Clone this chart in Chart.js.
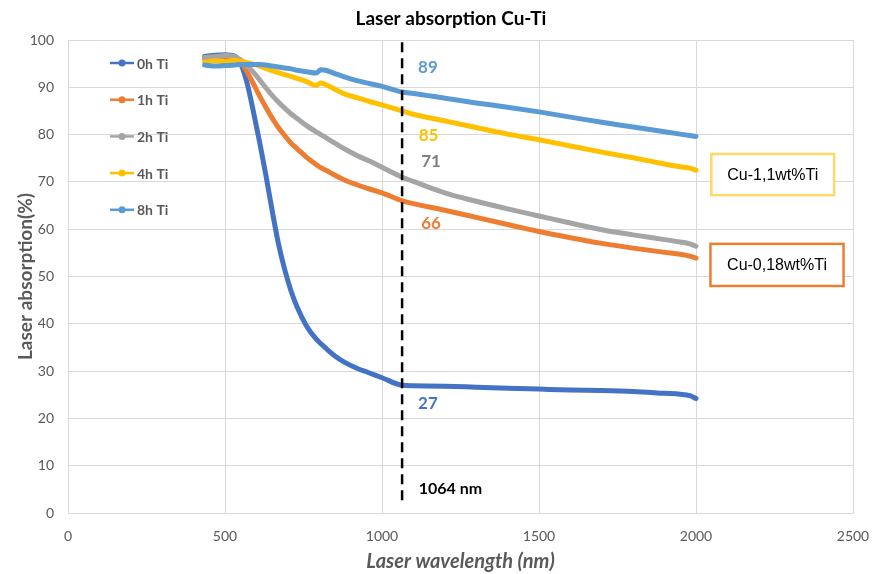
<!DOCTYPE html>
<html>
<head>
<meta charset="utf-8">
<title>Laser absorption Cu-Ti</title>
<script src="https://cdn.jsdelivr.net/npm/chart.js@4.4.1/dist/chart.umd.min.js"></script>
<style>
  html, body { margin: 0; padding: 0; background: #fff; }
</style>
</head>
<body>
<canvas id="absorptionChart" width="872" height="574"></canvas>
<script>
// wavelength grid shared by every sample (nm)
const wavelengths = [435, 470, 500, 530, 550, 570, 590, 610, 630, 650, 670, 690, 710, 730, 760, 790, 805, 820,
                     850, 880, 920, 960, 1000, 1064, 1100, 1200, 1300, 1400, 1500, 1600, 1700, 1800, 1900, 1950, 1980, 2000];

// absorption (%) per milling time
const abs0h = [96.5, 96.8, 96.9, 96.6, 95.0, 91.0, 85.0, 78.5, 71.5, 64.0, 57.0, 51.5, 47.0, 43.5, 39.5, 36.8, 35.8, 34.9,
               33.2, 31.9, 30.6, 29.6, 28.6, 27.0, 26.9, 26.8, 26.6, 26.4, 26.2, 26.0, 25.9, 25.7, 25.3, 25.1, 24.8, 24.2];
const abs1h = [96.0, 96.2, 96.2, 96.0, 95.3, 93.3, 90.8, 88.2, 85.8, 83.5, 81.5, 79.8, 78.2, 77.0, 75.2, 73.7, 73.0, 72.5,
               71.4, 70.4, 69.4, 68.5, 67.7, 66.0, 65.4, 64.0, 62.5, 61.0, 59.5, 58.2, 57.0, 56.0, 55.1, 54.7, 54.3, 53.9];
const abs2h = [96.3, 96.5, 96.7, 96.5, 95.8, 94.6, 93.2, 91.6, 89.9, 88.3, 86.9, 85.6, 84.4, 83.4, 81.9, 80.6, 80.0, 79.4,
               78.2, 77.0, 75.6, 74.4, 73.1, 71.0, 70.1, 67.7, 65.9, 64.3, 62.8, 61.3, 59.9, 58.8, 57.8, 57.3, 56.9, 56.4];
const abs4h = [95.3, 95.6, 95.4, 95.7, 95.5, 95.2, 94.9, 94.5, 94.0, 93.5, 93.1, 92.7, 92.3, 91.9, 91.2, 90.4, 90.9, 90.6,
               89.6, 88.6, 87.8, 87.0, 86.3, 85.0, 84.3, 82.9, 81.5, 80.1, 78.9, 77.6, 76.3, 75.1, 73.8, 73.2, 72.9, 72.5];
const abs8h = [94.7, 94.5, 94.6, 94.7, 94.8, 94.8, 94.8, 94.8, 94.7, 94.5, 94.3, 94.1, 93.9, 93.6, 93.3, 93.0, 93.7, 93.6,
               92.9, 92.2, 91.4, 90.8, 90.2, 89.0, 88.7, 87.7, 86.7, 85.8, 84.8, 83.7, 82.6, 81.6, 80.6, 80.1, 79.8, 79.6];

const seriesNames = ['0h Ti', '1h Ti', '2h Ti', '4h Ti', '8h Ti'];
const seriesValues = [abs0h, abs1h, abs2h, abs4h, abs8h];
const seriesColors = ['#4472C4', '#ED7D31', '#A5A5A5', '#FFC000', '#5B9BD5'];

const xTicks = [0, 500, 1000, 1500, 2000, 2500];
const yTicks = [0, 10, 20, 30, 40, 50, 60, 70, 80, 90, 100];

// Nd:YAG line and the absorption read at it
const laserLine = 1064;
const laserLabel = '1064 nm';
const valuesAtLaser = [27, 66, 71, 85, 89];
const valueColors = ['#4472C4', '#ED7D31', '#7F7F7F', '#FFC000', '#5B9BD5'];

const alloyNotes = ['Cu-1,1wt%Ti', 'Cu-0,18wt%Ti'];

// dashed 1064 nm line, the value readings and the two alloy boxes
const annotations = {
    id: 'annotations',
    afterDatasetsDraw(chart) {
        const { ctx, scales: { x, y } } = chart;
        ctx.save();

        const lx = x.getPixelForValue(laserLine);
        ctx.strokeStyle = '#000';
        ctx.lineWidth = 2.5;
        ctx.setLineDash([10, 6]);
        ctx.beginPath();
        ctx.moveTo(lx, y.getPixelForValue(99.5));
        ctx.lineTo(lx, y.getPixelForValue(1.5));
        ctx.stroke();
        ctx.setLineDash([]);

        // where each reading sits next to the line
        const spots = [[1115, 23.2], [1125, 61.2], [1125, 74.3], [1117, 79.9], [1115, 94.1]];
        ctx.font = 'bold 17px Lato';
        ctx.textAlign = 'left';
        ctx.textBaseline = 'middle';
        valuesAtLaser.forEach((v, i) => {
            ctx.fillStyle = valueColors[i];
            ctx.fillText(String(v), x.getPixelForValue(spots[i][0]), y.getPixelForValue(spots[i][1]));
        });

        ctx.fillStyle = '#000';
        ctx.font = 'bold 16px Lato';
        ctx.fillText(laserLabel, x.getPixelForValue(1117), y.getPixelForValue(5.2));

        const boxes = [
            { x0: 2049, x1: 2440, y0: 75.9, y1: 67.2, color: '#FFD966' },
            { x0: 2046, x1: 2470, y0: 56.9, y1: 48.0, color: '#ED7D31' }
        ];
        ctx.font = '16px "Liberation Sans"';
        ctx.textAlign = 'center';
        boxes.forEach((b, i) => {
            const left = x.getPixelForValue(b.x0), right = x.getPixelForValue(b.x1);
            const top = y.getPixelForValue(b.y0), bottom = y.getPixelForValue(b.y1);
            ctx.fillStyle = '#fff';
            ctx.fillRect(left, top, right - left, bottom - top);
            ctx.strokeStyle = b.color;
            ctx.lineWidth = 2.5;
            ctx.strokeRect(left, top, right - left, bottom - top);
            ctx.fillStyle = '#000';
            ctx.fillText(alloyNotes[i], (left + right) / 2, (top + bottom) / 2 + 1);
        });

        ctx.restore();
    }
};

// vertical legend inside the plot, upper left
const sideLegend = {
    id: 'sideLegend',
    afterDraw(chart) {
        const ctx = chart.ctx;
        ctx.save();
        ctx.font = 'bold 14px Lato';
        ctx.textAlign = 'left';
        ctx.textBaseline = 'middle';
        chart.data.datasets.forEach((ds, i) => {
            const yy = 63 + i * 36.7;
            ctx.strokeStyle = ds.borderColor;
            ctx.lineWidth = 2.5;
            ctx.beginPath();
            ctx.moveTo(110, yy);
            ctx.lineTo(134, yy);
            ctx.stroke();
            ctx.fillStyle = ds.borderColor;
            ctx.beginPath();
            ctx.arc(122, yy, 3.5, 0, Math.PI * 2);
            ctx.fill();
            ctx.fillStyle = '#595959';
            ctx.fillText(ds.label, 137, yy + 1);
        });
        ctx.restore();
    }
};

const absorptionCtx = document.getElementById('absorptionChart').getContext('2d');
const absorptionChart = new Chart(absorptionCtx, {
    type: 'line',
    data: {
        datasets: seriesNames.map((name, i) => ({
            label: name,
            data: wavelengths.map((w, j) => ({ x: w, y: seriesValues[i][j] })),
            borderColor: seriesColors[i],
            backgroundColor: seriesColors[i],
            borderWidth: 5,
            pointRadius: 0,
            cubicInterpolationMode: 'monotone',
            borderCapStyle: 'round',
            borderJoinStyle: 'round',
            order: seriesNames.length - i
        }))
    },
    options: {
        responsive: false,
        animation: false,
        devicePixelRatio: 1,
        layout: { padding: { top: 40, right: 19, left: 0, bottom: 0 } },
        plugins: {
            legend: { display: false },
            tooltip: { enabled: false },
            title: { display: false }
        },
        scales: {
            x: {
                type: 'linear',
                min: 0,
                max: 2500,
                afterBuildTicks: s => { s.ticks = xTicks.map(v => ({ value: v })); },
                afterFit: s => { s.height = 61; s.paddingLeft = 0; s.paddingRight = 0; },
                grid: { color: '#D9D9D9', drawTicks: false },
                border: { color: '#D9D9D9' },
                ticks: { color: '#595959', font: { family: 'Lato', size: 14 }, padding: 15, maxRotation: 0,
                         callback: v => String(v) },
                title: {
                    display: true,
                    text: 'Laser wavelength (nm)',
                    color: '#595959',
                    font: { family: 'Lato', size: 20, weight: 'bold', style: 'italic', lineHeight: 1.2 },
                    padding: { top: 0, bottom: 0 }
                }
            },
            y: {
                min: 0,
                max: 100,
                afterBuildTicks: s => { s.ticks = yTicks.map(v => ({ value: v })); },
                afterFit: s => { s.width = 68; s.paddingTop = 0; s.paddingBottom = 0; },
                grid: { color: '#D9D9D9', drawTicks: false },
                border: { display: false },
                ticks: { color: '#595959', font: { family: 'Lato', size: 14 }, padding: 14,
                         callback: v => String(v) },
                title: {
                    display: true,
                    text: 'Laser absorption(%)',
                    color: '#595959',
                    font: { family: 'Lato', size: 19, weight: 'bold', lineHeight: 1.2 },
                    padding: { top: 14, bottom: 0 }
                }
            }
        }
    },
    plugins: [annotations, sideLegend, {
        id: 'chartTitle',
        afterDraw(chart) {
            const ctx = chart.ctx;
            ctx.save();
            ctx.font = 'bold 19px Lato';
            ctx.fillStyle = '#000';
            ctx.textAlign = 'center';
            ctx.textBaseline = 'middle';
            ctx.fillText('Laser absorption Cu-Ti', 451, 19);
            ctx.restore();
        }
    }]
});
</script>
</body>
</html>
